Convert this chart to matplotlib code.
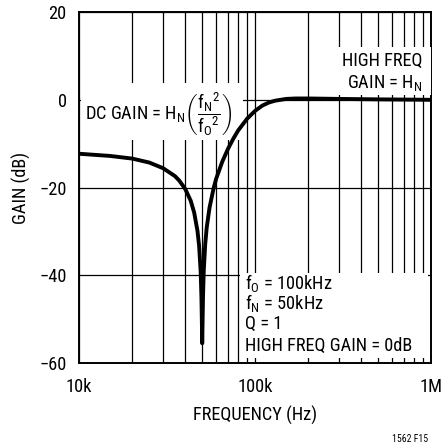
import matplotlib
matplotlib.use("Agg")
import matplotlib.pyplot as plt
from matplotlib.patches import Rectangle
from matplotlib.ticker import FixedLocator, NullFormatter

# notch response (f0 = 100kHz, fN = 50kHz, Q = 1)
freq_khz = [10, 15, 20, 25, 30, 35, 37, 40, 43, 45, 47, 48, 49, 49.5, 50,
            50.5, 51, 52, 53, 55, 58, 60, 65, 70, 75, 80, 90, 100, 110, 120,
            130, 150, 170, 200, 300, 500, 1000]
gain_db = [-12.3, -12.8, -13.4, -14.3, -15.6, -17.4, -18.4, -20.3, -23.0, -25.7,
           -29.9, -33.3, -39.2, -45.2, -55.5, -45.1, -39.0, -32.9, -29.2, -24.6,
           -20.2, -18.0, -14.1, -11.2, -8.9, -7.0, -4.3, -2.5, -1.3, -0.6,
           -0.2, 0.2, 0.3, 0.3, 0.2, 0.1, 0.0]

x_ticks = [1e4, 1e5, 1e6]
x_tick_labels = ["10k", "100k", "1M"]
x_minor = [2e4, 3e4, 4e4, 5e4, 6e4, 7e4, 8e4, 9e4,
           2e5, 3e5, 4e5, 5e5, 6e5, 7e5, 8e5, 9e5]
y_ticks = [-60, -40, -20, 0, 20]

notes = ["f$_\\mathregular{O}$ = 100kHz", "f$_\\mathregular{N}$ = 50kHz",
         "Q = 1", "HIGH FREQ GAIN = 0dB"]

plt.rcParams['font.family'] = ['Roboto Condensed', 'Liberation Sans', 'DejaVu Sans']
plt.rcParams['mathtext.fontset'] = 'custom'
plt.rcParams['mathtext.rm'] = 'Roboto Condensed'
plt.rcParams['mathtext.it'] = 'Roboto Condensed'

FS = 13.2

fig = plt.figure(figsize=(4.45, 4.46), dpi=100)
ax = fig.add_axes([0.178, 0.186, 0.791, 0.787])

freq_hz = [f * 1000 for f in freq_khz]
ax.plot(freq_hz, gain_db, color='black', lw=2.8, zorder=4, solid_joinstyle='round')

ax.set_xscale('log')
ax.set_xlim(1e4, 1e6)
ax.set_ylim(-60, 20)
ax.xaxis.set_major_locator(FixedLocator(x_ticks))
ax.set_xticklabels(x_tick_labels)
ax.xaxis.set_minor_locator(FixedLocator(x_minor))
ax.xaxis.set_minor_formatter(NullFormatter())
ax.set_yticks(y_ticks)
ax.tick_params(which='both', length=0, labelsize=FS)
ax.tick_params(axis='x', pad=11)
ax.tick_params(axis='y', pad=9)

ax.grid(True, which='both', axis='x', color='black', lw=0.9)
ax.grid(True, which='major', axis='y', color='black', lw=0.9)
for s in ax.spines.values():
    s.set_linewidth(1.4)

# white boxes behind the annotations (cut the grid lines)
for (x0, y0, w, h) in [(0.004, 0.635, 0.462, 0.163),
                       (0.685, 0.764, 0.313, 0.136),
                       (0.457, 0.014, 0.534, 0.242)]:
    ax.add_patch(Rectangle((x0, y0), w, h, transform=ax.transAxes,
                           facecolor='white', edgecolor='none', zorder=3))

ax.text(0.974, 0.846, "HIGH FREQ", transform=ax.transAxes,
        ha='right', va='baseline', fontsize=FS, zorder=5)
ax.text(0.974, 0.783, "GAIN = H$_\\mathregular{N}$", transform=ax.transAxes,
        ha='right', va='baseline', fontsize=FS, zorder=5)
ax.text(0.017, 0.692,
        r"DC GAIN = H$_\mathregular{N}$$\left(\dfrac{\mathregular{f_N}^{2}}{\mathregular{f_O}^{2}}\right)$",
        transform=ax.transAxes, ha='left', va='baseline', fontsize=FS, zorder=5)
for yb, line in zip([0.211, 0.154, 0.097, 0.034], notes):
    ax.text(0.472, yb, line, transform=ax.transAxes, ha='left', va='baseline',
            fontsize=FS, zorder=5)

ax.set_xlabel("FREQUENCY (Hz)", fontsize=FS, labelpad=7)
ax.set_ylabel("GAIN (dB)", fontsize=FS, labelpad=6)

fig.text(0.962, 0.004, "1562 F15", ha='right', va='bottom', fontsize=7)

fig.savefig("out.png", dpi=100)
